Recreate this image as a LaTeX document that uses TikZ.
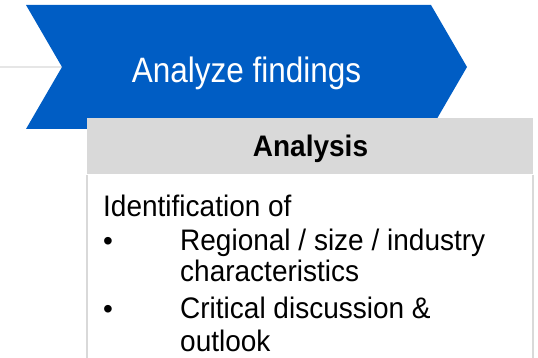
\documentclass[tikz,border=0pt]{standalone}
\usepackage{fontspec}
\setmainfont{Liberation Sans}
\definecolor{chevblue}{RGB}{0,93,196}
\definecolor{hdrgrey}{RGB}{217,217,217}
\definecolor{lineg}{RGB}{230,230,230}
\newcommand{\tallA}[1]{\scalebox{1}[1.12]{#1}}
\newcommand{\tallB}[1]{\scalebox{1}[1.06]{#1}}
\begin{document}
\begin{tikzpicture}[x=1pt,y=-1pt,
  titletext/.style={text=white,font=\fontsize{31.5}{36}\selectfont,inner sep=0pt,anchor=base},
  hdrtext/.style={font=\fontsize{28}{33}\selectfont\bfseries,inner sep=0pt,anchor=base},
  bodytext/.style={font=\fontsize{28}{33}\selectfont,inner sep=0pt,anchor=base west},
  bullettext/.style={font=\fontsize{28}{33}\selectfont,inner sep=0pt,anchor=base}]
\useasboundingbox (0,0) rectangle (538,358);
% grey guide line behind chevron
\coordinate (gl) at (0,67);
\coordinate (notch) at (62,67);
\draw[lineg,line width=2pt] (gl) -- (notch);
% chevron
\coordinate (c1) at (26,5);
\coordinate (c2) at (431,5);
\coordinate (tip) at (467,67);
\coordinate (c4) at (431,129);
\coordinate (c5) at (26,129);
\fill[chevblue] (c1) -- (c2) -- (tip) -- (c4) -- (c5) -- (notch) -- cycle;
\node[titletext] (title) at (246.5,83) {\tallA{Analyze findings}};
% box
\fill[white] (87,118) rectangle (533,372);
\draw[hdrgrey,line width=2pt] (87,175) -- (87,372);
\draw[hdrgrey,line width=2pt] (533,175) -- (533,372);
\fill[hdrgrey] (87,118) rectangle (533,174);
\node[hdrtext] (hdr) at (310.5,157) {\tallB{Analysis}};
% body text
\node[bodytext] (l1) at (103,216.7) {\tallB{Identification of}};
\node[bullettext] (b1) at (108,250) {•};
\node[bodytext] (l2) at (180,250) {\tallB{Regional / size / industry}};
\node[bodytext] (l3) at (180,281.7) {\tallB{characteristics}};
\node[bullettext] (b2) at (108,318.3) {•};
\node[bodytext] (l4) at (180,318.3) {\tallB{Critical discussion \&}};
\node[bodytext] (l5) at (180,351.7) {\tallB{outlook}};
\end{tikzpicture}
\end{document}
